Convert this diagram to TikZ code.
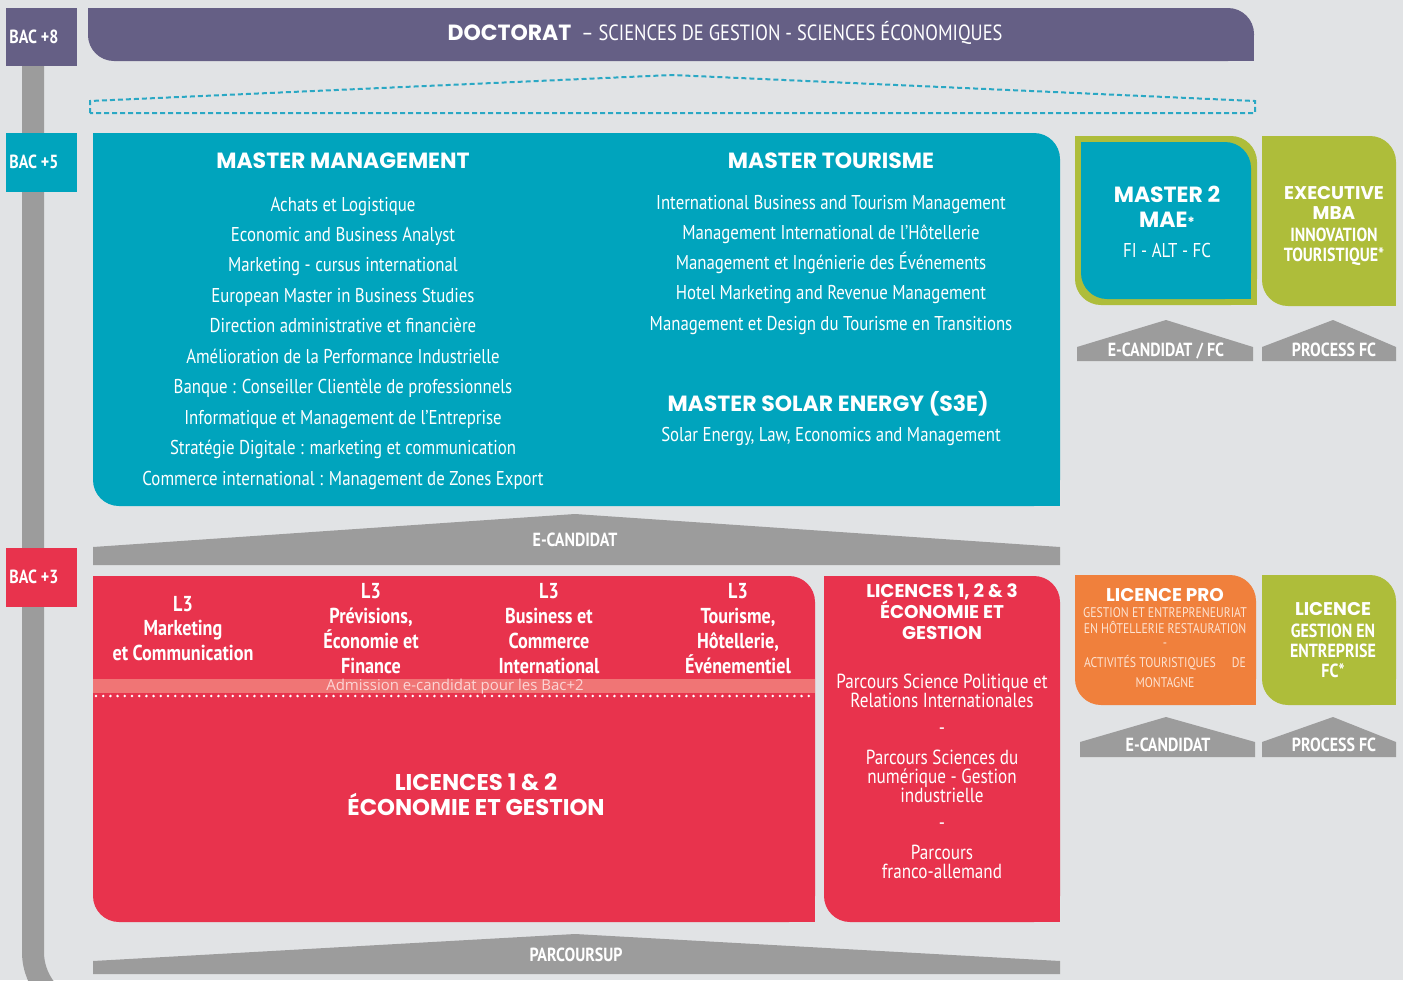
\documentclass[tikz,border=0pt]{standalone}
\usepackage{fontspec}
\newfontfamily\din[FakeStretch=0.84]{PT Sans}
\newfontfamily\goth{Poppins}
\newfontfamily\lite{Open Sans}
\definecolor{bg}{HTML}{E1E3E5}
\definecolor{docpurple}{HTML}{655F85}
\definecolor{mteal}{HTML}{00A4BD}
\definecolor{lred}{HTML}{E8334D}
\definecolor{lpink}{HTML}{F07575}
\definecolor{lorange}{HTML}{F0803C}
\definecolor{lgreen}{HTML}{AEBD3A}
\definecolor{bandgray}{HTML}{9C9C9C}
\definecolor{dashteal}{HTML}{2AA8C4}
\definecolor{pinktext}{HTML}{FCD5D5}
\definecolor{orangetext}{HTML}{FDE3D2}

\begin{document}
\begin{tikzpicture}[x=0.5pt,y=-0.5pt,
  tx/.style={inner sep=0pt,anchor=base,text=white},
  item/.style={tx,font={\din\fontsize{10}{12}\selectfont}},
  pitem/.style={tx,font={\din\fontsize{10.2}{12}\selectfont}},
  head/.style={tx,font={\goth\bfseries\fontsize{11}{13}\selectfont}},
  shead/.style={tx,font={\goth\bfseries\fontsize{9.2}{11}\selectfont}},
  l3/.style={tx,font={\din\bfseries\fontsize{10.8}{12}\selectfont}},
  slab/.style={tx,font={\din\bfseries\fontsize{9.5}{11}\selectfont}},
  lab/.style={tx,font={\din\bfseries\fontsize{9.5}{11}\selectfont}}]
\useasboundingbox (0,0) rectangle (1403,980);
\clip (0,0) rectangle (1403,980);
\fill[bg] (0,0) rectangle (1403,980);
\draw[bandgray,line width=11pt,rounded corners=30pt] (33,40) -- (33,1012) -- (250,1012);
\foreach \col/\xa/\ya/\xb/\yb in {docpurple/88/8/1254/61, mteal/93/133/1060/506, lgreen/1075/136/1257/305, mteal/1081/142/1251/299, lgreen/1262/136/1396/306, lred/93/576/815/922, lred/824/576/1060/922, lorange/1075/575/1256/705, lgreen/1262/575/1396/705} {
  \fill[\col,rounded corners=13pt] (\xa,\ya) rectangle (\xb,\yb);
  \fill[\col] (\xa,\ya) rectangle ++(30,30);
  \fill[\col] (\xb,\yb) rectangle ++(-30,-30);
}
\foreach \col/\ya/\yb/\n in {docpurple/8/66/8, mteal/133/192/5, lred/548/607/3} {
  \fill[\col] (6,\ya) rectangle (77,\yb);
  \node[lab,anchor=base west] (bac\n) at (9,{(\ya+\yb)/2+6}) {BAC +\n};
}
\foreach \xa/\xb/\xm/\yt/\ys/\yb in {93/1060/575/514/547/565, 93/1060/575/934/961/974, 1077/1253/1166/320/347/361, 1262/1396/1333/320/347/361, 1080/1255/1166/717/742/757, 1262/1396/1333/717/742/757}
  \fill[bandgray] (\xa,\yb) -- (\xa,\ys) -- (\xm,\yt) -- (\xb,\ys) -- (\xb,\yb) -- cycle;
\node[lab] (ec) at (575,546) {E-CANDIDAT};
\node[lab] (ps) at (576,961) {PARCOURSUP};
\node[lab] (ecfc) at (1166,356) {E-CANDIDAT / FC};
\node[lab] (pfc) at (1334,356) {PROCESS FC};
\node[lab] (ec2) at (1168,751) {E-CANDIDAT};
\node[lab] (pfc2) at (1334,751) {PROCESS FC};
\draw[dashteal,line width=1pt,dash pattern=on 2.5pt off 1.5pt] (90,113) -- (90,101) -- (672,75) -- (1255,101) -- (1255,113) -- cycle;
\node[tx] (doc) at (725,40) {{\goth\bfseries\fontsize{11}{12}\selectfont DOCTORAT}\hspace{5pt}{\din\fontsize{11}{12}\selectfont – SCIENCES DE GESTION - SCIENCES ÉCONOMIQUES}};

\node[head] (mm) at (343,168) {MASTER MANAGEMENT};
\foreach \txt [count=\i] in {Achats et Logistique, Economic and Business Analyst, Marketing - cursus international, European Master in Business Studies, Direction administrative et financière, Amélioration de la Performance Industrielle, Banque : Conseiller Clientèle de professionnels, Informatique et Management de l’Entreprise, Stratégie Digitale : marketing et communication, Commerce international : Management de Zones Export}
  \node[item] (mm\i) at (343,{211+30.45*(\i-1)}) {\txt};
\node[head] (mt) at (831,168) {MASTER TOURISME};
\foreach \txt [count=\i] in {International Business and Tourism Management, Management International de l’Hôtellerie, Management et Ingénierie des Événements, Hotel Marketing and Revenue Management, Management et Design du Tourisme en Transitions}
  \node[item] (mt\i) at (831,{209+30.3*(\i-1)}) {\txt};
\node[head] (ms) at (828,411) {MASTER SOLAR ENERGY (S3E)};
\node[item] (ms1) at (831,441) {Solar Energy, Law, Economics and Management};

\node[head] (mae1) at (1167,202) {MASTER 2};
\node[head] (mae2) at (1167,227) {MAE{\fontsize{7}{7}\selectfont*}};
\node[item] (mae3) at (1167,257) {FI - ALT - FC};
\node[shead] (ex1) at (1334,199) {EXECUTIVE};
\node[shead] (ex2) at (1334,219) {MBA};
\node[slab] (ex3) at (1334,241) {INNOVATION};
\node[slab] (ex4) at (1334,261) {TOURISTIQUE*};

\foreach \y/\txt [count=\i] in {611/L3, 635/Marketing, 660/et Communication}
  \node[l3] (a\i) at (183,\y) {\txt};
\foreach \x/\ta/\tb/\tc [count=\j] in {371/{Prévisions,}/{Économie et}/Finance, 549/Business et/Commerce/International, 738/{Tourisme,}/{Hôtellerie,}/Événementiel} {
  \node[l3] (b\j-1) at (\x,598) {L3};
  \node[l3] (b\j-2) at (\x,623) {\ta};
  \node[l3] (b\j-3) at (\x,648) {\tb};
  \node[l3] (b\j-4) at (\x,673) {\tc};
}
\fill[lpink] (93,679) rectangle (815,693);
\node[tx,text=pinktext,font={\lite\fontsize{7.5}{9}\selectfont}] (adm) at (455,690.5) {Admission e-candidat pour les Bac+2};
\draw[white,line width=1.4pt,line cap=round,dash pattern=on 0pt off 3.6pt] (96,696) -- (815,696);
\node[head,font={\goth\bfseries\fontsize{11.4}{13}\selectfont}] (lic1) at (476,790) {LICENCES 1 \& 2};
\node[head,font={\goth\bfseries\fontsize{11.4}{13}\selectfont}] (lic2) at (476,815) {ÉCONOMIE ET GESTION};

\foreach \y/\txt [count=\i] in {597/{LICENCES 1, 2 \& 3}, 618/ÉCONOMIE ET, 639/GESTION}
  \node[shead] (lg\i) at (942,\y) {\txt};
\foreach \y/\txt [count=\i] in {688/Parcours Science Politique et, 707/Relations Internationales, 734/-, 764/Parcours Sciences du, 783/numérique - Gestion, 802/industrielle, 829/-, 859/Parcours, 878/franco-allemand}
  \node[pitem] (pc\i) at (942,\y) {\txt};

\node[shead] (lp) at (1165,601) {LICENCE PRO};
\foreach \y/\txt [count=\i] in {617/GESTION ET ENTREPRENEURIAT, 633/EN HÔTELLERIE RESTAURATION, 647/-, 667/ACTIVITÉS TOURISTIQUES\hspace{8pt}DE, 687/MONTAGNE}
  \node[tx,text=orangetext,font={\din\fontsize{7}{8}\selectfont}] (lp\i) at (1165,\y) {\txt};
\node[shead] (lv) at (1333,615) {LICENCE};
\foreach \y/\txt [count=\i] in {637/GESTION EN, 657/ENTREPRISE, 677/FC*}
  \node[slab] (lv\i) at (1333,\y) {\txt};
\end{tikzpicture}
\end{document}
